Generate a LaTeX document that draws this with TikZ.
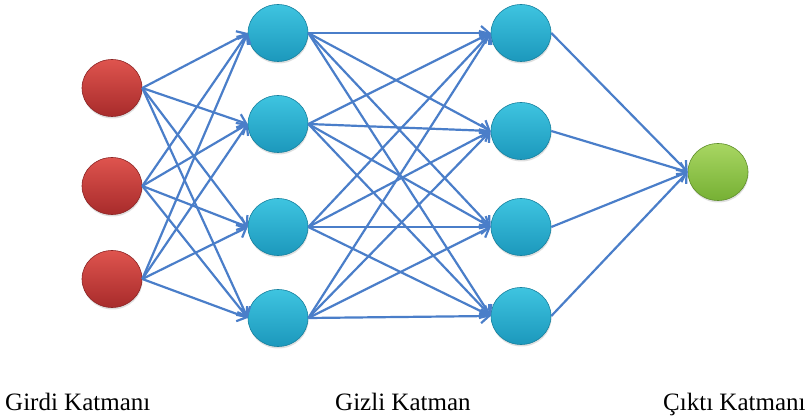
\documentclass[tikz,border=0pt]{standalone}
\usepackage{fontspec}
\setmainfont{Liberation Serif}
\newfontfamily\labelfont{Liberation Serif}
\usetikzlibrary{arrows.meta,shapes.geometric,shadows}
\definecolor{linkblue}{RGB}{74,126,201}
\definecolor{redtop}{RGB}{222,84,78}
\definecolor{redbot}{RGB}{168,43,43}
\definecolor{redline}{RGB}{140,36,36}
\definecolor{cyantop}{RGB}{62,196,224}
\definecolor{cyanbot}{RGB}{28,152,188}
\definecolor{cyanline}{RGB}{22,128,158}
\definecolor{greentop}{RGB}{168,214,98}
\definecolor{greenbot}{RGB}{118,176,52}
\definecolor{greenline}{RGB}{94,142,42}
\begin{document}
\begin{tikzpicture}[x=1pt,y=-1pt,
  neuron/.style={ellipse,minimum width=60pt,minimum height=57pt,inner sep=0pt,line width=0.6pt,
    drop shadow={shadow xshift=0.5pt,shadow yshift=-2pt,opacity=0.25}},
  innode/.style={neuron,top color=redtop,bottom color=redbot,draw=redline},
  hidnode/.style={neuron,top color=cyantop,bottom color=cyanbot,draw=cyanline},
  outnode/.style={neuron,top color=greentop,bottom color=greenbot,draw=greenline},
  link/.style={draw=linkblue,line width=2.2pt,-{Straight Barb[length=8pt,width=14pt]}},
  layerlabel/.style={anchor=base west,inner sep=0pt,font=\labelfont\fontsize{25}{30}\selectfont}
]
\useasboundingbox (0,0) rectangle (811,419);
% input layer
\node[innode] (i1) at (112,88) {};
\node[innode] (i2) at (112,186) {};
\node[innode] (i3) at (112,279) {};
% hidden layer 1
\node[hidnode] (a1) at (278,33) {};
\node[hidnode] (a2) at (278,124) {};
\node[hidnode] (a3) at (278,227) {};
\node[hidnode] (a4) at (278,318) {};
% hidden layer 2
\node[hidnode] (b1) at (521,33) {};
\node[hidnode] (b2) at (521,131) {};
\node[hidnode] (b3) at (521,227) {};
\node[hidnode] (b4) at (521,316) {};
% output
\node[outnode] (o) at (718,172) {};
% connections
\foreach \i in {1,2,3} {\foreach \j in {1,2,3,4} {\draw[link] (i\i.east) -- (a\j.west);}}
\foreach \i in {1,2,3,4} {\foreach \j in {1,2,3,4} {\draw[link] (a\i.east) -- (b\j.west);}}
\foreach \i in {1,2,3,4} {\draw[link] (b\i.east) -- (o.west);}
% labels
\node[layerlabel] (l1) at (5,410) {Girdi Katmanı};
\node[layerlabel] (l2) at (335,410) {Gizli Katman};
\node[layerlabel] (l3) at (663,410) {Çıktı Katmanı};
\end{tikzpicture}
\end{document}
